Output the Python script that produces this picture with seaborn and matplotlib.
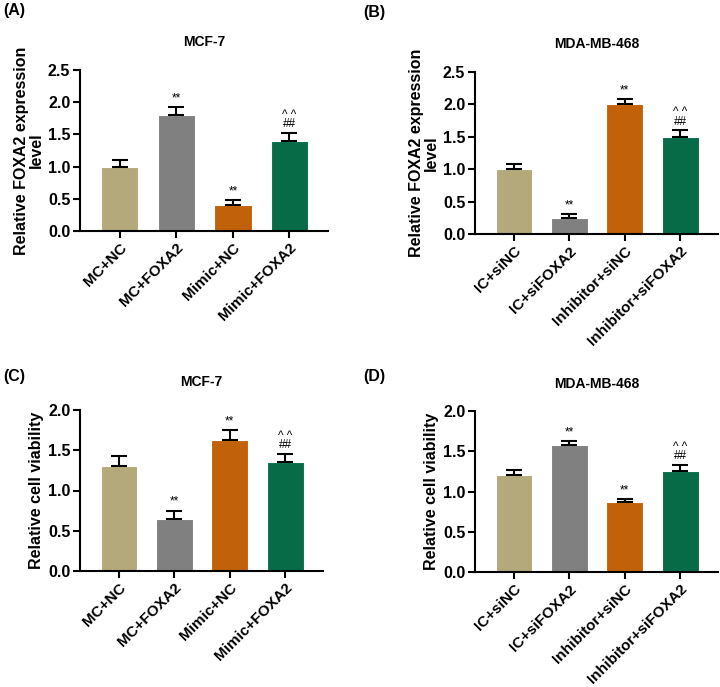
import matplotlib
matplotlib.use("Agg")
import matplotlib.pyplot as plt
import seaborn as sns
import pandas as pd

sns.set_theme(style="ticks")
plt.rcParams['font.family'] = ['Liberation Sans', 'DejaVu Sans']
plt.rcParams['font.weight'] = 'bold'
plt.rcParams['text.color'] = 'black'
plt.rcParams['axes.labelcolor'] = 'black'
plt.rcParams['xtick.color'] = 'black'
plt.rcParams['ytick.color'] = 'black'

colors = ["#B3A97A", "#808080", "#C1620B", "#076B47"]

groups_mcf = ["MC+NC", "MC+FOXA2", "Mimic+NC", "Mimic+FOXA2"]
groups_mda = ["IC+siNC", "IC+siFOXA2", "Inhibitor+siNC", "Inhibitor+siFOXA2"]

expr_mcf = [1.0, 1.8, 0.4, 1.4]
expr_mcf_err = [0.10, 0.12, 0.08, 0.12]
expr_mda = [1.0, 0.25, 2.0, 1.5]
expr_mda_err = [0.08, 0.06, 0.08, 0.10]
via_mcf = [1.31, 0.65, 1.63, 1.35]
via_mcf_err = [0.12, 0.10, 0.12, 0.10]
via_mda = [1.21, 1.58, 0.87, 1.25]
via_mda_err = [0.06, 0.05, 0.04, 0.08]

sig_expr_mcf = ["", "**", "**", "^ ^\n##"]
sig_expr_mda = ["", "**", "**", "^ ^\n##"]
sig_via_mcf = ["", "**", "**", "^ ^\n##"]
sig_via_mda = ["", "**", "**", "^ ^\n##"]

W, H = 720, 687
fig = plt.figure(figsize=(W / 100, H / 100), dpi=100)


def px_axes(left, right, top, bottom):
    return fig.add_axes([left / W, 1 - bottom / H, (right - left) / W, (bottom - top) / H])


panels = [
    dict(box=(80, 328, 70, 231), groups=groups_mcf, vals=expr_mcf, errs=expr_mcf_err, sig=sig_expr_mcf,
         title="MCF-7", ylabel="Relative FOXA2 expression\nlevel", ymax=2.5, yt=[0, 0.5, 1.0, 1.5, 2.0, 2.5],
         letter="(A)", lpos=(3, 11), tpos=42),
    dict(box=(475, 718, 72, 234), groups=groups_mda, vals=expr_mda, errs=expr_mda_err, sig=sig_expr_mda,
         title="MDA-MB-468", ylabel="Relative FOXA2 expression\nlevel", ymax=2.5, yt=[0, 0.5, 1.0, 1.5, 2.0, 2.5],
         letter="(B)", lpos=(363, 12), tpos=44),
    dict(box=(80, 323, 410, 571), groups=groups_mcf, vals=via_mcf, errs=via_mcf_err, sig=sig_via_mcf,
         title="MCF-7", ylabel="Relative cell viability", ymax=2.0, yt=[0, 0.5, 1.0, 1.5, 2.0],
         letter="(C)", lpos=(3, 376), tpos=382),
    dict(box=(475, 718, 411, 572), groups=groups_mda, vals=via_mda, errs=via_mda_err, sig=sig_via_mda,
         title="MDA-MB-468", ylabel="Relative cell viability", ymax=2.0, yt=[0, 0.5, 1.0, 1.5, 2.0],
         letter="(D)", lpos=(363, 376), tpos=384),
]

for p in panels:
    l, r, t, b = p["box"]
    ax = px_axes(l, r, t, b)
    df = pd.DataFrame({"group": p["groups"], "value": p["vals"]})
    sns.barplot(data=df, x="group", y="value", hue="group", palette=colors, legend=False,
                width=0.66, errorbar=None, ax=ax, saturation=1, edgecolor="white", linewidth=0.8)
    xs = list(range(len(p["groups"])))
    ax.errorbar(xs, p["vals"], yerr=[[0] * len(xs), p["errs"]], fmt="none", ecolor="black",
                elinewidth=1.5, capsize=6, capthick=1.5, zorder=5)
    for x, v, e, s in zip(xs, p["vals"], p["errs"], p["sig"]):
        if s:
            ax.annotate(s, (x, v + e), xytext=(0, 2), textcoords="offset points", ha="center", va="bottom",
                        fontsize=8.5, fontweight="normal", linespacing=0.7, color="black")
    ax.set_xlim(-0.7, 3.68)
    ax.set_ylim(0, p["ymax"])
    ax.set_yticks(p["yt"])
    ax.set_yticklabels([f"{v:.1f}" for v in p["yt"]], fontsize=11.5, fontweight="bold")
    ax.set_xticks(xs)
    ax.set_xticklabels(p["groups"], rotation=45, ha="right", rotation_mode="anchor",
                       fontsize=11, fontweight="bold")
    ax.set_xlabel("")
    ax.set_ylabel(p["ylabel"], fontsize=11.5, fontweight="bold", labelpad=3, linespacing=1.0)
    for sp in ["top", "right"]:
        ax.spines[sp].set_visible(False)
    for sp in ["left", "bottom"]:
        ax.spines[sp].set_linewidth(1.5)
        ax.spines[sp].set_color("black")
    ax.tick_params(axis="both", width=1.5, length=5, color="black", pad=2)
    ax.set_facecolor("white")
    fig.text((l + r) / 2 / W, 1 - p["tpos"] / H, p["title"], ha="center", va="center",
             fontsize=10, fontweight="bold")
    fig.text(p["lpos"][0] / W, 1 - p["lpos"][1] / H, p["letter"], ha="left", va="center",
             fontsize=11.5, fontweight="bold")

fig.savefig("out.png", dpi=100, facecolor="white")
